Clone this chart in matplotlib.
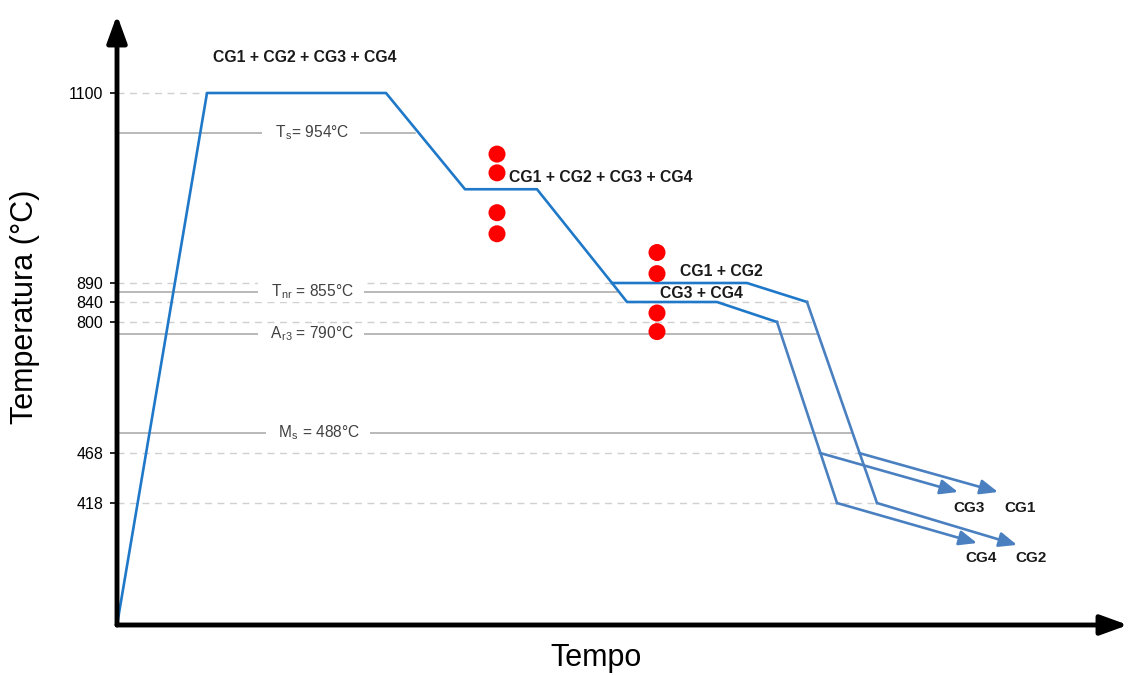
import numpy as np
import matplotlib
matplotlib.use('Agg')
import matplotlib.pyplot as plt

plt.rcParams['font.family'] = ['Liberation Sans', 'DejaVu Sans']
plt.rcParams['mathtext.default'] = 'regular'

# schematic temperature axis (not linear): temperature -> drawing height
scale_T = [25, 418, 468, 488, 790, 800, 840, 855, 890, 954, 1100, 1300]
scale_h = [0, 122, 172, 192, 291, 303, 323, 333, 342, 492, 532, 610]

def fwd(t):
    return np.interp(t, scale_T, scale_h)

def inv(h):
    return np.interp(h, scale_h, scale_T)

# main path (time in arbitrary units, temperature in C)
main_t = [0, 9, 26.9, 34.8, 42, 49.5, 51, 60, 66]
main_T = [25, 1100, 1100, 930, 930, 890, 840, 840, 800]
# CG1 + CG2 branch
up_t = [49.5, 63, 69]
up_T = [890, 890, 840]
# steep cooling
steep_up_t = [69, 76]
steep_up_T = [840, 418]
steep_lo_t = [66, 72]
steep_lo_T = [800, 418]
# final arrows: (start t, start T, end t, end T, label, label t, label T)
arrows = [
    (76, 418, 90, 283, 'CG2', 91.4, 241),
    (72, 418, 86, 289, 'CG4', 86.4, 241),
    (70.3, 468, 84.1, 429, 'CG3', 85.2, 402),
    (74.2, 468, 88.1, 429, 'CG1', 90.3, 402),
]

# red dots (deformation passes)
dots_t = [38, 38, 38, 38, 54, 54, 54, 54]
dots_T = [945, 937, 920, 911, 903, 894, 818, 792]

# reference temperatures
ref_T = [954, 855, 790, 488]
ref_end = [29.8, 50, 70, 73.5]
ref_lab = ['T$_s$= 954°C', 'T$_{nr}$ = 855°C', 'A$_{r3}$ = 790°C', 'M$_s$ = 488°C']
ref_lab_t = [19.4, 19.4, 19.4, 20.1]

# ticks / dashed guide lines
tick_T = [1100, 890, 840, 800, 468, 418]
tick_lab = ['1100', '890', '840', '800', '468', '418']
tick_end = [9, 49.5, 69, 70, 74.3, 76]

fig = plt.figure(figsize=(11.3, 6.75), dpi=100)
ax = fig.add_axes([117/1130, 50/675, (1128-117)/1130, (625-15)/675])
ax.set_yscale('function', functions=(fwd, inv))
ax.set_xlim(0, 101.1)
ax.set_ylim(25, 1300)

blue = '#1f78c8'
blue2 = '#4a80c0'

for T, e in zip(tick_T, tick_end):
    ax.plot([0, e], [T, T], color='#d0d0d0', lw=1, ls=(0, (5, 4)), zorder=1)

for T, e, lab, lt in zip(ref_T, ref_end, ref_lab, ref_lab_t):
    ax.plot([0, e], [T, T], color='#a6a6a6', lw=1.1, zorder=1)
    ax.text(lt, T, '   ' + lab + '   ', ha='center', va='center', fontsize=11.2,
            color='#404040',
            bbox=dict(facecolor='white', edgecolor='none', boxstyle='square,pad=0.05'),
            zorder=2)

ax.plot(main_t, main_T, color=blue, lw=1.9, zorder=3)
ax.plot(up_t, up_T, color=blue, lw=1.9, zorder=3)
ax.plot(steep_up_t, steep_up_T, color=blue2, lw=1.9, zorder=3)
ax.plot(steep_lo_t, steep_lo_T, color=blue2, lw=1.9, zorder=3)

for t0, T0, t1, T1, lab, lt, lT in arrows:
    ax.annotate('', xy=(t1, T1), xytext=(t0, T0),
                arrowprops=dict(arrowstyle='-|>,head_length=0.6,head_width=0.25',
                                color=blue2, lw=1.9,
                                mutation_scale=18, shrinkA=0, shrinkB=0), zorder=3)
    ax.text(lt, lT, lab, ha='center', va='center', fontsize=11, fontweight='bold',
            color='#1a1a1a')

ax.scatter(dots_t, dots_T, s=150, color='#ff0000', edgecolors='none', zorder=4)

ax.text(18.8, 1190, 'CG1 + CG2 + CG3 + CG4', ha='center', va='center', fontsize=11.3,
        fontweight='bold', color='#1a1a1a')
ax.text(39.2, 935, 'CG1 + CG2 + CG3 + CG4', ha='left', va='center', fontsize=11.3,
        fontweight='bold', color='#1a1a1a')
ax.text(56.3, 895, 'CG1 + CG2', ha='left', va='center', fontsize=11.3,
        fontweight='bold', color='#1a1a1a')
ax.text(54.3, 852, 'CG3 + CG4', ha='left', va='center', fontsize=11.3,
        fontweight='bold', color='#1a1a1a')

# axes as arrows
for s in ax.spines.values():
    s.set_visible(False)
ax.annotate('', xy=(0, 1), xytext=(0, 0), xycoords='axes fraction',
            arrowprops=dict(arrowstyle='-|>,head_length=0.55,head_width=0.2', color='black',
                            lw=3.5, mutation_scale=30, shrinkA=0, shrinkB=0))
ax.annotate('', xy=(1, 0), xytext=(0, 0), xycoords='axes fraction',
            arrowprops=dict(arrowstyle='-|>,head_length=0.55,head_width=0.2', color='black',
                            lw=3.5, mutation_scale=30, shrinkA=0, shrinkB=0))

ax.set_xticks([])
ax.set_yticks(tick_T)
ax.set_yticklabels(tick_lab, fontsize=11.5)
ax.minorticks_off()
ax.tick_params(axis='y', length=5, width=1.2, pad=5)

fig.text(25/1130, 1 - 307/675, 'Temperatura (°C)', rotation=90, ha='center', va='center',
         fontsize=22)
fig.text(596/1130, 1 - 658/675, 'Tempo', ha='center', va='center', fontsize=22)

fig.savefig('out.png', dpi=100)
